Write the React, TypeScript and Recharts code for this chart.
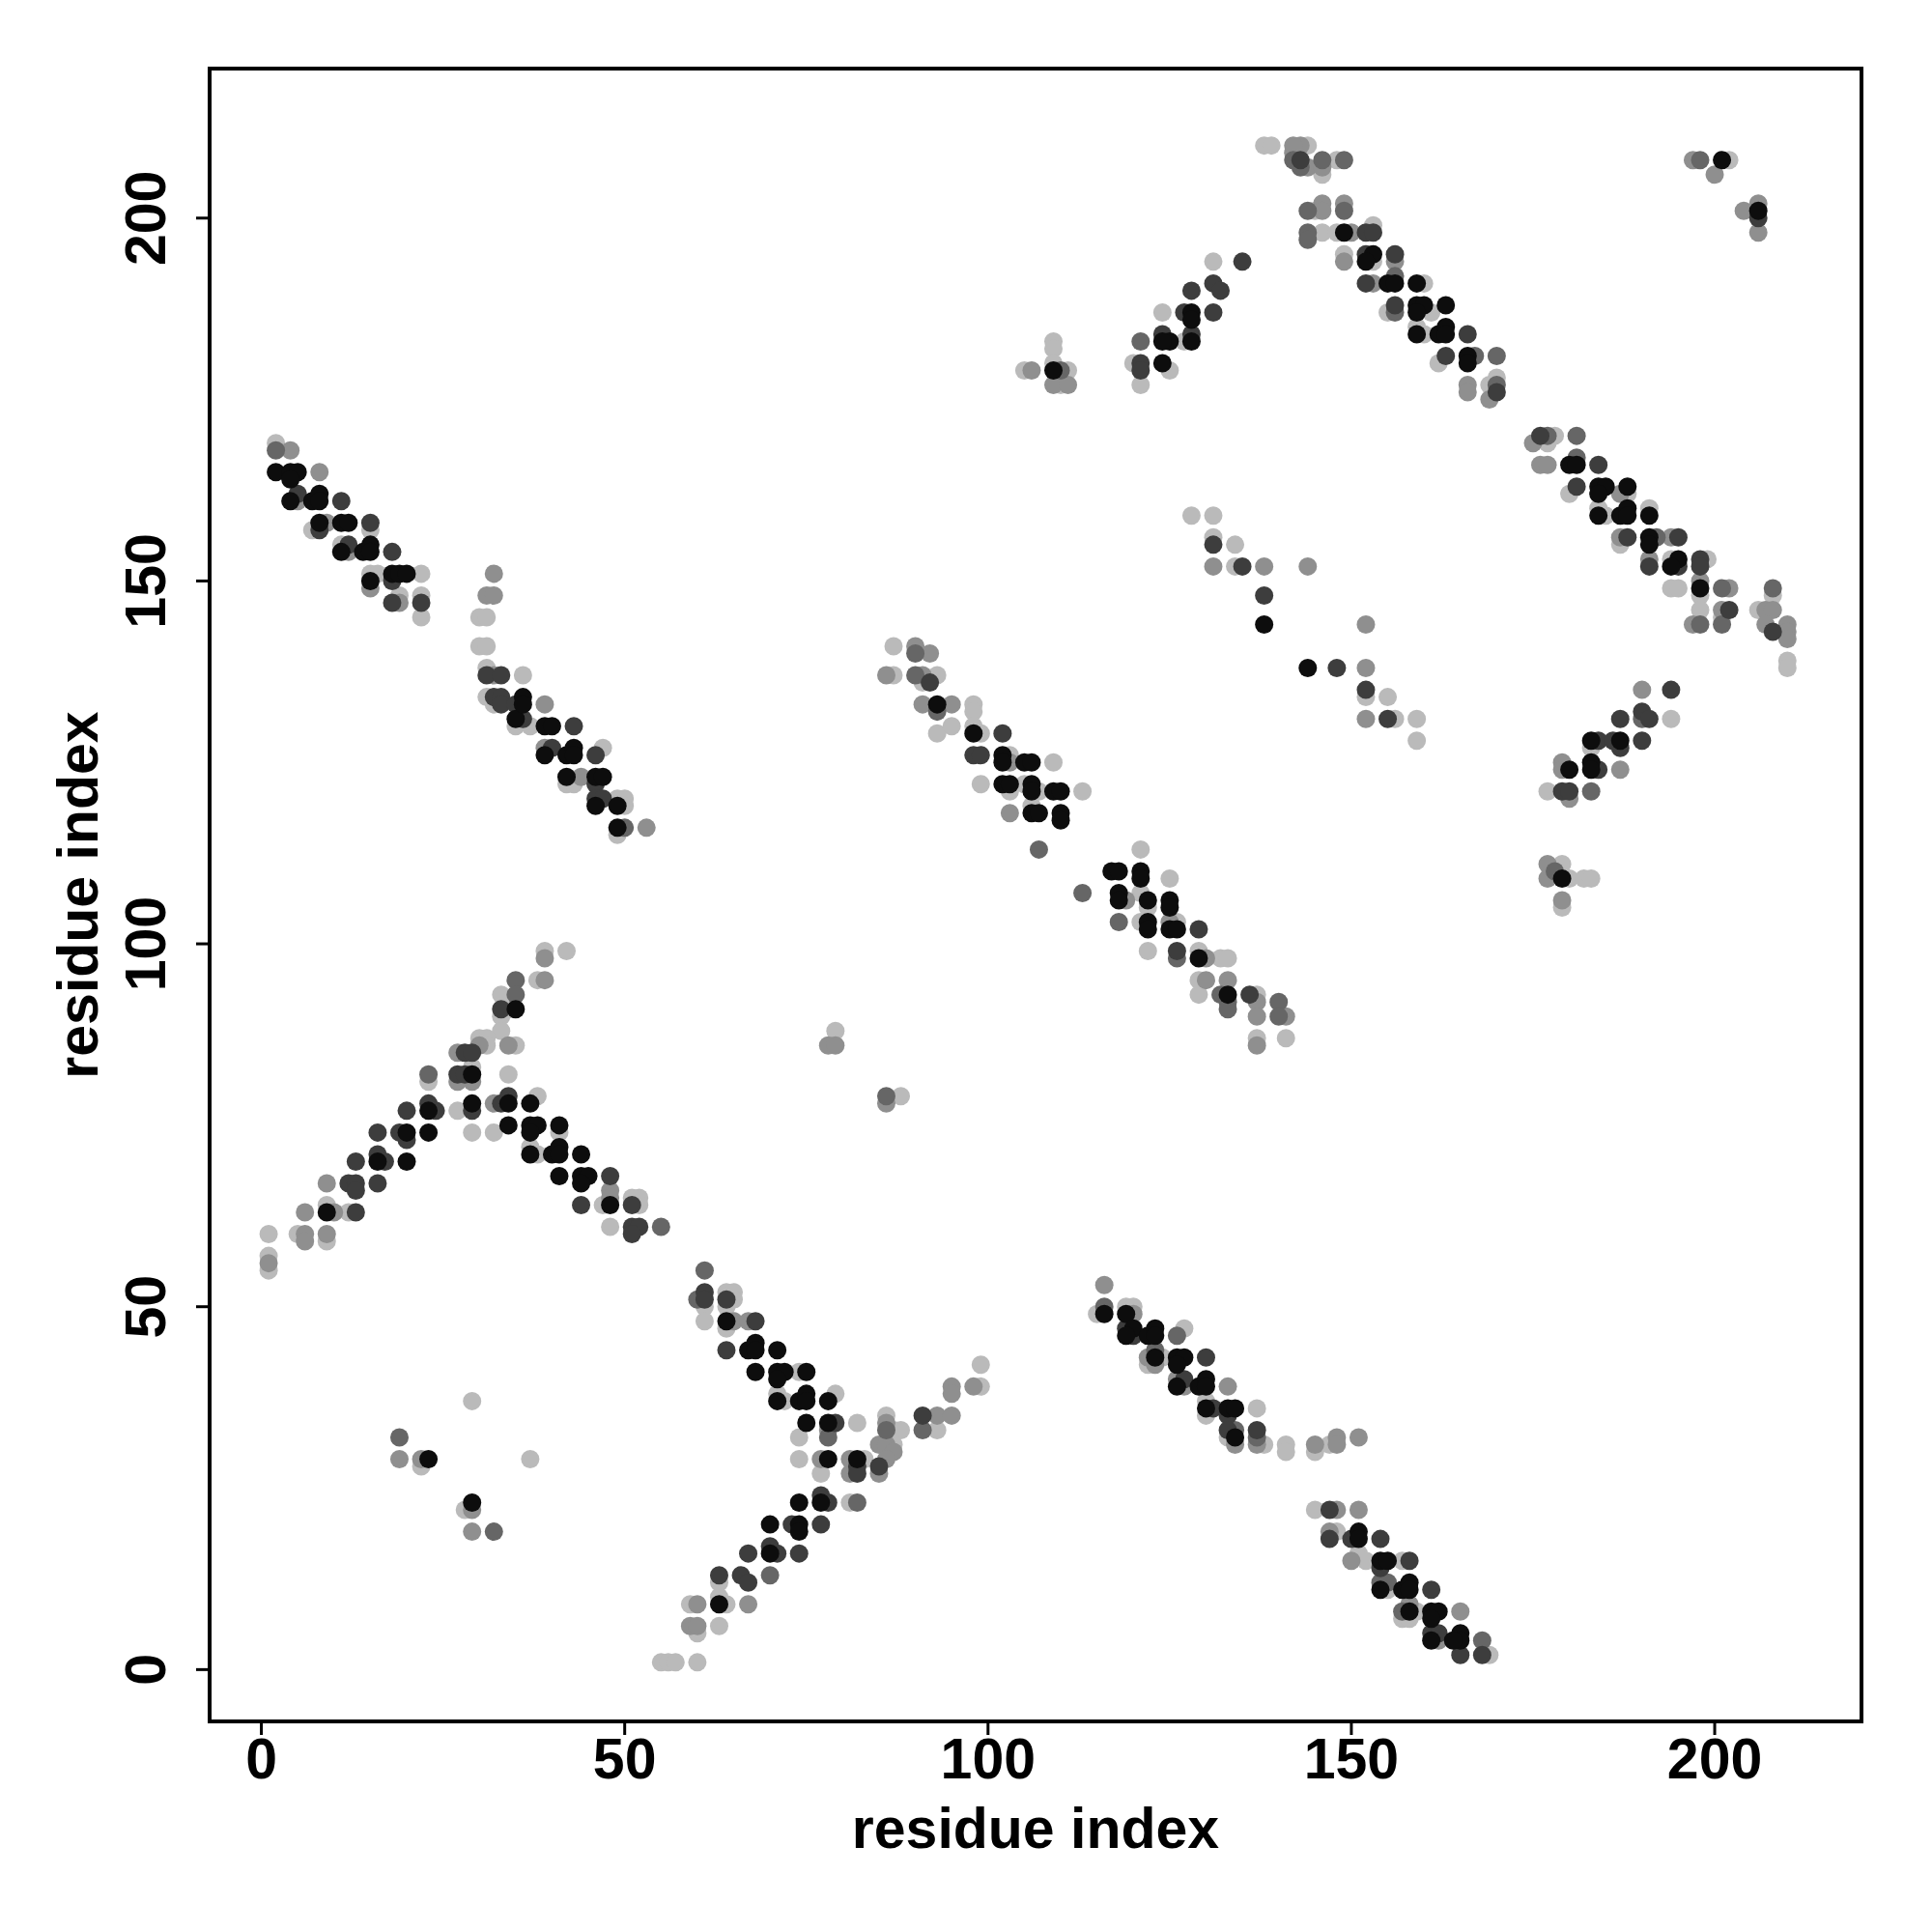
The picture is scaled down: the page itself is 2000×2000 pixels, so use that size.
import React from 'react';
import { ScatterChart, Scatter, XAxis, YAxis, ReferenceArea } from 'recharts';

type Pt = [number, number];

const xTicks = [0, 50, 100, 150, 200];
const yTicks = [0, 50, 100, 150, 200];

// contact points grouped by grey level (darkest = strongest)
const blackPts: Pt[] = [
  [2, 165], [4, 165], [5, 165], [4, 164], [4, 161], [7, 161], [8, 162], [8, 161], [8, 158], [11, 158], [12, 158], [11, 154], [14, 154], [15, 155], [15, 154], [15, 150], [18, 151], [19, 151], [20, 151],
  [35, 131], [36, 134], [36, 133], [39, 130], [40, 130], [39, 126], [42, 126], [43, 127], [43, 126], [42, 123], [46, 123], [47, 123], [46, 119], [49, 119], [49, 116],
  [35, 91], [29, 82], [23, 77], [29, 78], [34, 78], [37, 78], [20, 74], [23, 74], [34, 75], [37, 75], [38, 75], [37, 74], [41, 75], [37, 71], [40, 71], [41, 72], [41, 71], [44, 71], [16, 70], [20, 70], [41, 68], [44, 68], [45, 68], [44, 67], [9, 63], [48, 64],
  [64, 48], [67, 44], [68, 45], [68, 44], [71, 44], [68, 41], [71, 41], [72, 41], [75, 41], [71, 40], [71, 37], [74, 37], [75, 38], [75, 37], [78, 37], [75, 34], [78, 34], [78, 29], [82, 29], [77, 23], [74, 23], [70, 20], [74, 20], [74, 19], [70, 16], [63, 9],
  [93, 133], [98, 129], [102, 126], [102, 125], [105, 125], [106, 125], [102, 122], [103, 122], [106, 122], [109, 121], [110, 121], [106, 121], [106, 118], [107, 118], [110, 118], [110, 117], [117, 110], [118, 110], [121, 110], [121, 109], [118, 107], [118, 106], [122, 106], [125, 106], [125, 105], [122, 103], [122, 102], [125, 102], [126, 102], [129, 98], [133, 93],
  [109, 179], [124, 180], [125, 183], [124, 183], [128, 187], [128, 186], [128, 183], [149, 198], [153, 195], [152, 194], [155, 191], [156, 191], [159, 191], [159, 188], [160, 188], [159, 187], [163, 188], [159, 184], [162, 184], [163, 185], [163, 184], [166, 181], [166, 180], [201, 208],
  [180, 166], [181, 166], [184, 163], [185, 163], [184, 162], [188, 163], [184, 159], [187, 159], [188, 160], [188, 159], [191, 159], [191, 156], [191, 155], [195, 153], [194, 152], [198, 149],
  [138, 144], [144, 138],
  [183, 128], [187, 128], [180, 124], [183, 125], [183, 124], [179, 109],
  [116, 49], [119, 49], [120, 47], [119, 46], [122, 46], [123, 47], [123, 46], [123, 43], [126, 43], [127, 43], [126, 42], [126, 39], [129, 39], [130, 40], [130, 39], [130, 36], [133, 36], [134, 36], [134, 32],
  [151, 19], [151, 18], [154, 15], [155, 15], [154, 11], [157, 11], [158, 12], [158, 11], [158, 8], [161, 8], [162, 8], [161, 7], [161, 4], [165, 5], [165, 4], [164, 4],
  [23, 29], [29, 23], [206, 201],
];

const darkPts: Pt[] = [
  [5, 162], [11, 161], [8, 157], [15, 158], [12, 155], [18, 154], [18, 150], [18, 147], [22, 147],
  [31, 137], [33, 137], [32, 134], [33, 134], [33, 133], [35, 133], [36, 131], [43, 130], [40, 127], [46, 126], [46, 122], [46, 120], [47, 120],
  [33, 91], [28, 85], [29, 85], [27, 82], [28, 82], [23, 78], [24, 77], [20, 77], [29, 77], [33, 78], [34, 79], [16, 74], [19, 74], [20, 73], [16, 71], [17, 70], [13, 70], [12, 67], [13, 67], [13, 66], [16, 67], [48, 68], [13, 63], [44, 64], [51, 64], [51, 61], [52, 61], [51, 60],
  [61, 52], [61, 51], [64, 51], [68, 48], [64, 44], [79, 34], [82, 28], [82, 27], [85, 28], [91, 35], [77, 24], [78, 23], [73, 20], [77, 20], [67, 16], [70, 17], [71, 16], [74, 16], [63, 13], [66, 13], [67, 12],
  [92, 136], [98, 126], [99, 126], [102, 129], [126, 99], [129, 102], [136, 93],
  [121, 180], [121, 179], [124, 184], [127, 187], [128, 184], [128, 190], [131, 191], [132, 190], [135, 194], [131, 187], [143, 208], [152, 198], [153, 198], [152, 195], [156, 195], [152, 191], [156, 188], [166, 184], [163, 181], [170, 176], [206, 200],
  [176, 170], [184, 166], [181, 163], [188, 156], [195, 156], [191, 152], [195, 152], [198, 153], [198, 152], [202, 146], [208, 143],
  [131, 155], [135, 152], [138, 148], [148, 138], [152, 135], [155, 131],
  [194, 135], [190, 132], [191, 131], [187, 131], [184, 128], [186, 128], [187, 127], [190, 128], [184, 124], [179, 121], [180, 121],
  [119, 47], [120, 46], [130, 43], [127, 40], [131, 36], [133, 35], [133, 33], [137, 33],
  [147, 22], [147, 18], [150, 18], [154, 18], [154, 14], [158, 15], [161, 11], [161, 5], [162, 5], [165, 2], [168, 2],
];

const midDarkPts: Pt[] = [
  [2, 168], [50, 116], [35, 95], [35, 93], [23, 82], [55, 61], [61, 55], [60, 51], [78, 32], [86, 33], [91, 33], [82, 23], [70, 13],
  [90, 140], [90, 137], [93, 132], [107, 113], [113, 107], [118, 103], [126, 98], [132, 93], [133, 92], [133, 91], [140, 92], [140, 90], [86, 79],
  [121, 183], [110, 179], [142, 208], [146, 208], [149, 208], [143, 207], [144, 201], [149, 201], [144, 198], [144, 197], [156, 192], [156, 187], [167, 181], [170, 181], [170, 177], [198, 208],
  [177, 170], [181, 170], [181, 167], [192, 156], [201, 149], [208, 149], [198, 144], [201, 144],
  [190, 131], [183, 121], [178, 110],
  [116, 50], [123, 44], [126, 46], [134, 33], [137, 32],
  [154, 12], [155, 12], [157, 8], [168, 4],
  [19, 32], [32, 19],
];

const midPts: Pt[] = [
  [4, 168], [8, 165], [5, 161], [9, 158], [12, 154], [15, 149], [19, 147],
  [32, 151], [31, 148], [32, 148], [32, 137], [39, 133], [39, 127], [44, 123], [53, 116],
  [39, 98], [39, 95], [34, 86], [30, 86], [27, 85], [27, 81], [29, 81], [32, 78], [9, 67], [48, 66], [48, 65], [6, 63], [10, 63], [6, 60], [6, 59], [9, 60], [1, 56],
  [65, 48], [67, 48], [78, 33], [77, 29], [81, 29], [81, 27], [86, 34], [93, 35], [95, 35], [95, 39], [95, 38], [98, 39], [85, 31], [86, 31], [87, 30], [85, 27], [86, 29], [60, 9], [67, 9], [59, 6], [60, 6],
  [92, 140], [86, 137], [91, 137], [91, 133], [95, 133], [103, 125], [103, 118], [119, 106], [125, 103], [130, 98], [130, 95], [133, 95], [137, 92], [137, 90], [141, 90], [137, 86], [78, 86], [79, 86], [86, 78], [90, 141],
  [106, 179], [109, 177], [111, 177], [142, 209], [144, 207], [146, 207], [146, 202], [146, 201], [149, 202], [150, 198], [156, 194], [153, 191], [166, 177], [166, 176], [169, 175], [197, 208], [143, 210], [142, 210], [149, 194], [200, 206],
  [175, 169], [176, 166], [177, 166], [187, 162], [187, 156], [194, 156], [191, 153], [198, 150], [202, 149], [197, 144], [201, 146], [207, 146], [208, 146], [207, 144], [210, 144], [210, 143], [210, 142],
  [131, 152], [138, 152], [144, 152], [152, 144], [152, 138], [152, 131],
  [190, 135], [179, 125], [179, 124], [187, 124], [180, 120], [177, 111], [177, 109], [179, 106],
  [116, 53], [120, 49], [122, 43], [123, 42], [126, 40], [127, 39], [133, 39], [134, 31], [137, 31], [148, 32], [148, 31], [151, 32], [145, 31],
  [148, 22], [147, 19], [150, 15], [158, 9], [162, 4], [165, 8], [151, 22],
  [19, 29], [22, 29], [29, 22], [29, 19],
  [206, 202], [206, 198], [204, 201],
];

const lightPts: Pt[] = [
  [2, 169], [7, 157], [11, 155], [15, 157], [15, 151], [16, 151], [22, 151], [19, 148], [22, 148], [22, 145],
  [30, 145], [31, 145], [30, 141], [31, 141], [31, 138], [36, 137], [31, 134], [32, 133], [35, 130], [37, 130], [47, 127], [42, 122], [43, 122], [49, 120], [50, 120], [50, 119], [49, 115],
  [39, 99], [42, 99], [38, 95], [33, 93], [34, 91], [33, 90], [33, 88], [30, 87], [31, 87], [31, 86], [35, 86], [29, 83], [23, 81], [34, 82], [27, 77], [38, 79], [29, 74], [32, 74], [41, 74], [37, 72], [38, 71], [9, 64], [12, 63], [47, 64], [51, 65], [52, 65], [52, 64], [1, 60], [5, 60], [9, 59], [48, 61], [1, 57], [1, 55],
  [61, 50], [61, 48], [64, 52], [65, 52], [65, 51], [64, 50], [64, 47], [74, 41], [71, 38], [72, 37], [79, 38], [82, 34], [74, 32], [74, 29], [83, 29], [77, 27], [86, 35], [87, 33], [88, 33], [93, 33], [99, 39], [99, 42], [87, 31], [81, 23], [63, 12], [59, 9], [63, 10], [64, 9], [60, 5], [63, 6], [55, 1], [56, 1], [57, 1], [60, 1],
  [87, 141], [87, 137], [93, 137], [91, 136], [98, 133], [98, 132], [93, 129], [95, 130], [99, 129], [98, 130], [103, 126], [109, 125], [99, 122], [105, 122], [103, 121], [107, 121], [113, 121], [106, 119], [121, 113], [125, 109], [121, 107], [122, 105], [121, 103], [126, 103], [122, 99], [129, 99], [132, 98], [133, 98], [129, 95], [129, 93], [137, 93], [137, 87], [141, 87], [79, 88], [88, 79],
  [105, 179], [109, 183], [109, 182], [109, 180], [111, 179], [110, 177], [120, 180], [121, 177], [125, 179], [124, 187], [127, 183], [131, 194], [138, 210], [139, 210], [144, 210], [146, 206], [148, 208], [145, 201], [146, 198], [148, 198], [153, 199], [149, 195], [153, 194], [160, 191], [155, 187], [161, 187], [159, 185], [160, 184], [162, 180], [169, 177], [170, 178], [202, 208],
  [178, 170], [177, 169], [180, 162], [188, 162], [184, 160], [185, 159], [191, 160], [187, 155], [194, 153], [199, 153], [194, 149], [195, 149], [198, 148], [208, 148], [198, 146], [201, 145], [206, 146], [210, 139], [210, 138],
  [128, 159], [131, 159], [131, 156], [134, 155], [134, 152], [152, 134], [155, 134], [156, 131], [159, 131], [159, 128],
  [183, 127], [194, 131], [177, 121], [179, 111], [180, 109], [182, 109], [183, 109], [179, 105],
  [115, 49], [119, 50], [120, 50], [127, 47], [122, 42], [124, 43], [130, 37], [130, 35], [137, 36], [133, 32], [138, 31], [141, 31], [141, 30], [145, 30], [147, 31],
  [145, 22], [148, 19], [151, 16], [152, 15], [157, 15], [155, 11], [157, 7], [159, 8], [158, 7], [169, 2],
  [22, 28], [37, 29], [28, 22], [29, 37],
];

const X_DOMAIN: [number, number] = [-7.12, 220.2];
const Y_DOMAIN: [number, number] = [-7.14, 220.6];
const FONT = '"Liberation Sans", Arial, Helvetica, sans-serif';

const toRows = (pts: Pt[]) => pts.map(([x, y]) => ({ x, y }));

// light first so the strong contacts sit on top
const layers = [
  { name: 'light', pts: lightPts, color: '#bababa' },
  { name: 'mid', pts: midPts, color: '#8f8f8f' },
  { name: 'midDark', pts: midDarkPts, color: '#666666' },
  { name: 'dark', pts: darkPts, color: '#3d3d3d' },
  { name: 'black', pts: blackPts, color: '#0d0d0d' },
];

function XTick(props: any) {
  const { x, y, payload } = props;
  return (
    <text x={x} y={y + 43} textAnchor="middle" fontFamily={FONT} fontWeight="bold" fontSize={59} fill="#000">
      {payload.value}
    </text>
  );
}

function YTick(props: any) {
  const { x, y, payload } = props;
  const bx = x - 30;
  return (
    <text x={bx} y={y} transform={`rotate(-90 ${bx} ${y})`} textAnchor="middle" fontFamily={FONT} fontWeight="bold" fontSize={59} fill="#000">
      {payload.value}
    </text>
  );
}

export default function App() {
  return (
    <div style={{ width: 2000, height: 2000, background: '#fff' }}>
      <style>{'body{margin:0;background:#fff}'}</style>
      <ScatterChart width={2000} height={2000} margin={{ top: 71, right: 73, bottom: 98, left: 87 }}>
        <XAxis
          type="number"
          dataKey="x"
          domain={X_DOMAIN}
          ticks={xTicks}
          allowDataOverflow
          height={120}
          axisLine={false}
          tickLine={{ stroke: '#000', strokeWidth: 3 }}
          tickSize={14}
          tick={<XTick />}
          label={{
            content: (p: any) => (
              <text x={p.viewBox.x + p.viewBox.width / 2} y={p.viewBox.y + 131} textAnchor="middle" fontFamily={FONT} fontWeight="bold" fontSize={59} fill="#000">
                residue index
              </text>
            ),
          }}
        />
        <YAxis
          type="number"
          dataKey="y"
          domain={Y_DOMAIN}
          ticks={yTicks}
          allowDataOverflow
          width={130}
          axisLine={false}
          tickLine={{ stroke: '#000', strokeWidth: 3 }}
          tickSize={14}
          tick={<YTick />}
          label={{
            content: (p: any) => {
              const cx = 101;
              const cy = p.viewBox.y + p.viewBox.height / 2;
              return (
                <text x={cx} y={cy} transform={`rotate(-90 ${cx} ${cy})`} textAnchor="middle" fontFamily={FONT} fontWeight="bold" fontSize={59} fill="#000">
                  residue index
                </text>
              );
            },
          }}
        />
        {layers.map((l) => (
          <Scatter
            key={l.name}
            name={l.name}
            data={toRows(l.pts)}
            isAnimationActive={false}
            shape={(p: any) => <circle cx={p.cx} cy={p.cy} r={9.5} fill={l.color} />}
          />
        ))}
        <ReferenceArea
          x1={X_DOMAIN[0]}
          x2={X_DOMAIN[1]}
          y1={Y_DOMAIN[0]}
          y2={Y_DOMAIN[1]}
          fill="none"
          stroke="#000"
          strokeWidth={4}
        />
      </ScatterChart>
    </div>
  );
}
